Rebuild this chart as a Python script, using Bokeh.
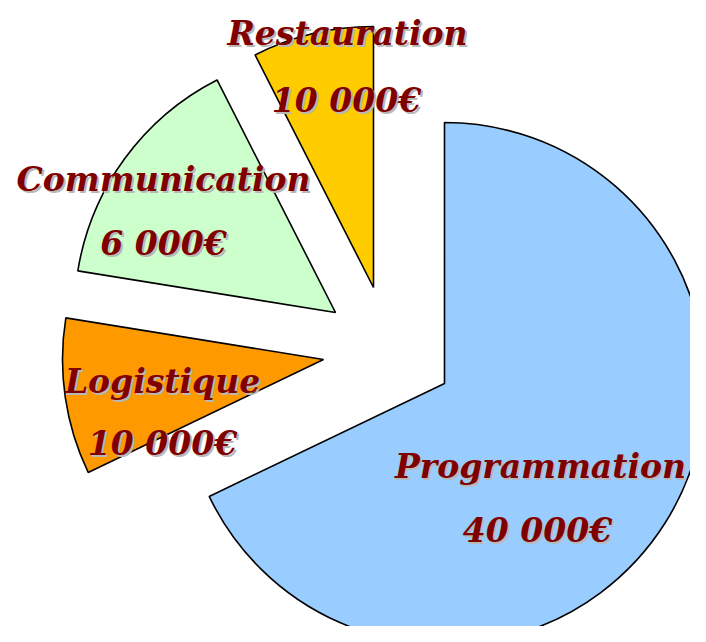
import math
from bokeh.plotting import figure
from bokeh.models import Range1d, ColumnDataSource
from bokeh.core.properties import value
from bokeh.embed import file_html
from bokeh.resources import INLINE

# ---- data ----
categories = ["Restauration", "Communication", "Logistique", "Programmation"]
amount_labels = ["10 000€", "6 000€", "10 000€", "40 000€"]
slice_share = [7.5, 14.96, 9.67, 67.9]   # share of the circle, percent (as drawn)
colors = ["#FFCC00", "#CCFFCC", "#FF9900", "#99CCFF"]

# ---- layout (pixels of the 706x642 picture, y measured downward) ----
base_center = (444, 383)
radius = 261
explode = [(-71, -96), (-109, -71), (-121, -24), (0, 0)]
name_pos = [(347, 33), (163, 179), (162, 381), (540, 466)]
amount_pos = [(346, 100), (163, 243), (162, 443), (537, 530)]

W, H = 690, 626
p = figure(width=W, height=H, output_backend="svg", toolbar_location=None,
           x_range=Range1d(0, W), y_range=Range1d(642 - H, 642),
           min_border=0, outline_line_color=None)
p.axis.visible = False
p.grid.visible = False
p.background_fill_color = "white"
p.border_fill_color = "white"

def ty(y_px):
    return 642 - y_px

total = sum(slice_share)
start = math.pi / 2
xs, ys, starts, ends = [], [], [], []
for share, (dx, dy) in zip(slice_share, explode):
    sweep = share / total * 2 * math.pi
    xs.append(base_center[0] + dx)
    ys.append(ty(base_center[1] + dy))
    starts.append(start)
    ends.append(start + sweep)
    start += sweep

src = ColumnDataSource(dict(x=xs, y=ys, start=starts, end=ends, color=colors, cat=categories))
p.wedge(x="x", y="y", radius=radius, start_angle="start", end_angle="end",
        direction="anticlock", fill_color="color", line_color="black", line_width=1.6,
        source=src)

font = value("DejaVu Serif")
def label(texts, positions, size):
    xs_ = [q[0] for q in positions]
    ys_ = [ty(q[1]) for q in positions]
    p.text(x=[x + 2 for x in xs_], y=[y - 2 for y in ys_], text=texts,
           text_font=font, text_font_size=size, text_font_style="bold italic",
           text_color="#B8B8B8", text_align="center", text_baseline="middle")
    p.text(x=xs_, y=ys_, text=texts,
           text_font=font, text_font_size=size, text_font_style="bold italic",
           text_color="#800000", text_align="center", text_baseline="middle")

label(categories, name_pos, "33px")
label(amount_labels, amount_pos, "33px")

open("out.html", "w").write(file_html(p, INLINE))
